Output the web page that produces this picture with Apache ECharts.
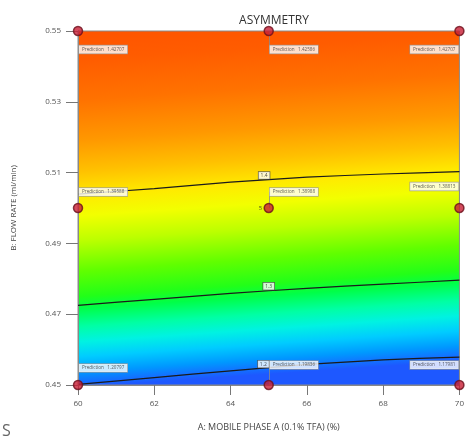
<!DOCTYPE html>
<html>
<head>
<meta charset="utf-8">
<script src="https://cdn.jsdelivr.net/npm/echarts@6/dist/echarts.min.js"></script>
<style>
  html, body { margin: 0; padding: 0; background: #fff; }
  #chart { width: 467px; height: 437px; }
</style>
</head>
<body>
<div id="chart"></div>
<script>
// Design factor levels
const mobilePhaseA = [60, 65, 70];          // A: mobile phase A (%)
const flowRate = [0.45, 0.50, 0.55];        // B: flow rate (ml/min)

// Predicted asymmetry at the design points, one array per flow-rate level
const predLow = [1.20797, 1.19836, 1.17981];   // B = 0.45
const predMid = [1.39588, 1.38988, 1.38813];   // B = 0.50
const predHigh = [1.42707, 1.42586, 1.42707];  // B = 0.55
const centerReplicates = 5;

// Contour traces of constant asymmetry
const contourX = [60, 62, 64, 66, 68, 70];
const contour14 = [0.5039, 0.5055, 0.5073, 0.5087, 0.5096, 0.5103];
const contour13 = [0.4725, 0.4742, 0.4759, 0.4773, 0.4785, 0.4796];
const contour12 = [0.4502, 0.4521, 0.4540, 0.4558, 0.4571, 0.4579];
const contourLevels = ['1.4', '1.3', '1.2'];
const contourLabelX = [64.88, 65.0, 64.86];
const contourLabelY = [0.5092, 0.4779, 0.4559];

// Axis ticks
const xTickStep = 2;
const yTickStep = 0.02;

// ---- layout of the prediction flags (pixel offsets from each point) ----
// rows: low, mid, high flow rate; cols: 60, 65, 70
const flagOffsetY = [[-17, -20, -20], [-16, -16, -21.5], [18.5, 18.5, 18.5]];
const flagAlign = ['left', 'left', 'right'];
const flagShiftX = [1, 1, -1];

const predRows = [predLow, predMid, predHigh];
const pointData = [];
const flagLayout = [];
flowRate.forEach((b, r) => {
  mobilePhaseA.forEach((a, c) => {
    pointData.push([a, b, predRows[r][c]]);
    flagLayout.push({ dx: flagShiftX[c], dy: flagOffsetY[r][c], align: flagAlign[c] });
  });
});

const zip = (xs, ys) => xs.map((x, i) => [x, ys[i]]);

const fieldGradient = new echarts.graphic.LinearGradient(0, 0, 0.063, 1, [
  { offset: 0.000, color: '#ff5400' },
  { offset: 0.082, color: '#ff5c00' },
  { offset: 0.195, color: '#ff7200' },
  { offset: 0.308, color: '#ff9800' },
  { offset: 0.393, color: '#ffc000' },
  { offset: 0.463, color: '#ffea00' },
  { offset: 0.520, color: '#f2ff00' },
  { offset: 0.590, color: '#bcff00' },
  { offset: 0.675, color: '#60ff00' },
  { offset: 0.746, color: '#22ff18' },
  { offset: 0.780, color: '#00ff48' },
  { offset: 0.830, color: '#00ffa4' },
  { offset: 0.873, color: '#00f2e2' },
  { offset: 0.915, color: '#00ccff' },
  { offset: 0.958, color: '#0098ff' },
  { offset: 1.000, color: '#1e58ff' }
]);

const chart = echarts.init(document.getElementById('chart'), null, { renderer: 'canvas' });

const contourLine = (data) => ({
  type: 'line',
  data: data,
  smooth: 0.2,
  symbol: 'none',
  silent: true,
  z: 3,
  lineStyle: { color: '#1b1b1b', width: 1.2 }
});

chart.setOption({
  animation: false,
  textStyle: { fontFamily: 'Open Sans, sans-serif' },
  title: {
    text: 'ASYMMETRY',
    left: 269,
    top: 10,
    textAlign: 'center',
    textStyle: { fontSize: 12, fontWeight: 'normal', color: '#333' }
  },
  grid: {
    left: 78, right: 7, top: 31, bottom: 52,
    show: true,
    backgroundColor: fieldGradient,
    borderColor: '#8a8a8a',
    borderWidth: 1
  },
  xAxis: {
    type: 'value',
    min: 60, max: 70, interval: xTickStep,
    name: 'A: MOBILE PHASE A (0.1% TFA) (%)',
    nameLocation: 'middle',
    nameGap: 38,
    nameTextStyle: { fontSize: 9, color: '#444' },
    axisLine: { show: true, lineStyle: { color: '#888' } },
    axisTick: { show: true, length: 10, lineStyle: { color: '#777' } },
    axisLabel: { fontSize: 8, color: '#555', margin: 15 },
    splitLine: { show: false }
  },
  yAxis: {
    type: 'value',
    min: 0.45, max: 0.55, interval: yTickStep,
    name: 'B: FLOW RATE (ml/min)',
    nameLocation: 'middle',
    nameGap: 60,
    nameTextStyle: { fontSize: 8, color: '#444' },
    axisLine: { show: true, lineStyle: { color: '#888' } },
    axisTick: { show: true, length: 12, lineStyle: { color: '#777' } },
    axisLabel: { fontSize: 8, color: '#555', margin: 17, formatter: v => v.toFixed(2) },
    splitLine: { show: false }
  },
  series: [
    contourLine(zip(contourX, contour14)),
    contourLine(zip(contourX, contour13)),
    contourLine(zip(contourX, contour12)),
    {
      // leader lines from each design point to its prediction flag
      type: 'custom',
      silent: true,
      z: 4,
      clip: false,
      data: pointData,
      renderItem: (params, api) => {
        const p = api.coord([api.value(0), api.value(1)]);
        const dy = flagLayout[params.dataIndex].dy;
        const x = Math.round(p[0]) + 0.5;
        return {
          type: 'line',
          shape: { x1: x, y1: p[1], x2: x, y2: p[1] + dy },
          style: { stroke: '#8a8a8a', lineWidth: 0.8 }
        };
      }
    },
    {
      // contour level tags
      type: 'scatter',
      z: 5,
      symbolSize: 0.1,
      itemStyle: { color: 'transparent' },
      silent: true,
      data: zip(contourLabelX, contourLabelY),
      label: {
        show: true,
        position: 'inside',
        formatter: p => contourLevels[p.dataIndex],
        fontSize: 5,
        color: '#222',
        backgroundColor: '#ffffff',
        borderColor: '#444',
        borderWidth: 0.7,
        padding: [1, 2]
      }
    },
    {
      // design points with prediction flags
      type: 'scatter',
      z: 6,
      clip: false,
      symbolSize: 9,
      itemStyle: { color: '#c81e34', borderColor: '#6b0f1c', borderWidth: 1.5 },
      data: pointData.map((d, i) => ({
        value: d,
        label: {
          offset: [flagLayout[i].dx, flagLayout[i].dy],
          align: flagLayout[i].align
        }
      })),
      label: {
        show: true,
        position: 'inside',
        verticalAlign: 'middle',
        formatter: p => 'Prediction   ' + p.value[2].toFixed(5),
        fontSize: 4.6,
        color: '#333',
        backgroundColor: '#ffffff',
        borderColor: '#999',
        borderWidth: 0.7,
        padding: [1.5, 3]
      }
    },
    {
      // replicate count at the centre point
      type: 'scatter',
      z: 6,
      symbolSize: 9,
      itemStyle: { color: 'transparent' },
      silent: true,
      data: [[mobilePhaseA[1], flowRate[1], centerReplicates]],
      label: {
        show: true,
        position: 'left',
        distance: 2,
        formatter: p => String(p.value[2]),
        fontSize: 6,
        color: '#222'
      }
    }
  ],
  graphic: [
    {
      type: 'text',
      left: 2,
      top: 423,
      style: { text: 'S', fontSize: 16, fill: '#666', fontFamily: 'Open Sans, sans-serif' }
    }
  ]
});
</script>
</body>
</html>
